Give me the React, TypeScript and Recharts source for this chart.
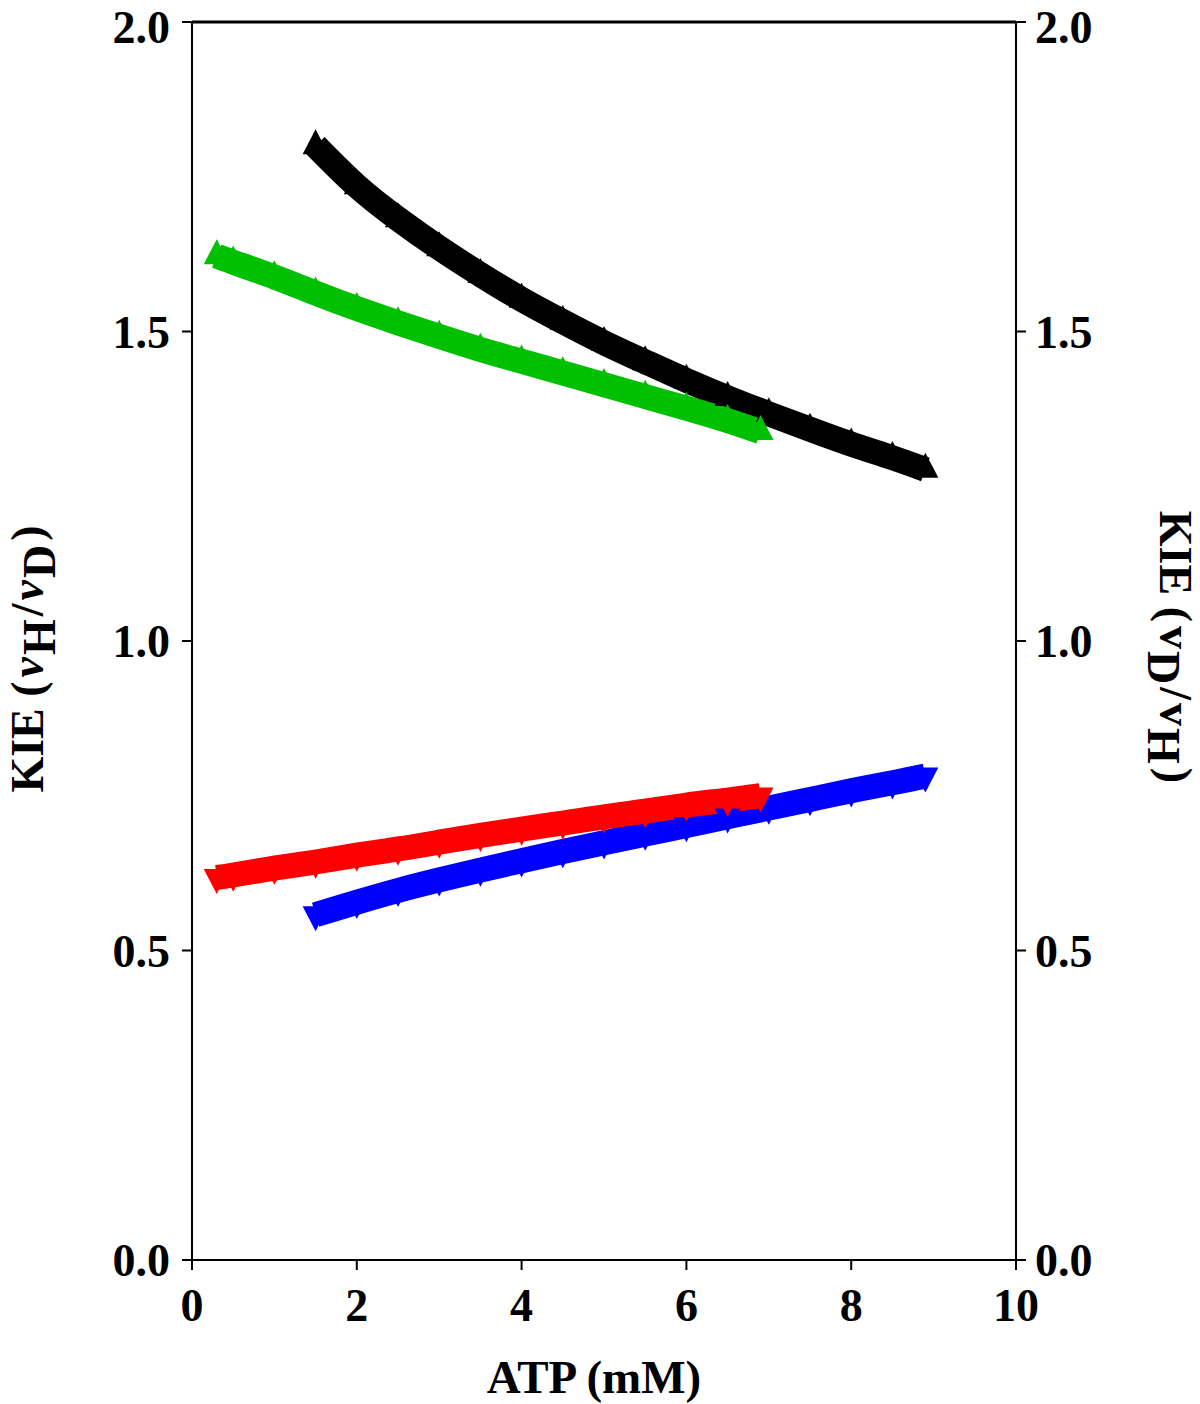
import { ComposedChart, Line, XAxis, YAxis, ReferenceLine, Label } from 'recharts';

// KIE vs ATP
const blackX = [1.5, 2, 2.5, 3, 3.5, 4, 4.5, 5, 5.5, 6, 6.5, 7, 7.5, 8, 8.5, 8.9];
const blackY = [1.8, 1.735, 1.682, 1.635, 1.592, 1.552, 1.516, 1.482, 1.451, 1.421, 1.393, 1.367, 1.342, 1.318, 1.296, 1.277];

const greenX = [0.3, 0.5, 1, 1.5, 2, 2.5, 3, 3.5, 4, 4.5, 5, 5.5, 6, 6.5, 6.9];
const greenY = [1.622, 1.612, 1.588, 1.562, 1.537, 1.514, 1.492, 1.471, 1.452, 1.433, 1.414, 1.395, 1.376, 1.356, 1.338];

const redX = [0.3, 0.5, 1, 1.5, 2, 2.5, 3, 3.5, 4, 4.5, 5, 5.5, 6, 6.5, 6.9];
const redY = [0.618, 0.622, 0.633, 0.643, 0.654, 0.664, 0.675, 0.686, 0.696, 0.706, 0.716, 0.725, 0.735, 0.743, 0.75];

const blueX = [1.5, 2, 2.5, 3, 3.5, 4, 4.5, 5, 5.5, 6, 6.5, 7, 7.5, 8, 8.5, 8.9];
const blueY = [0.558, 0.578, 0.597, 0.614, 0.63, 0.645, 0.66, 0.674, 0.688, 0.702, 0.716, 0.73, 0.744, 0.758, 0.771, 0.782];

const xTicks = [0, 2, 4, 6, 8, 10];
const yTicks = [0, 0.5, 1, 1.5, 2];

const toPoints = (xs: number[], ys: number[]) => xs.map((x, i) => ({ x, y: ys[i] }));

const blackData = toPoints(blackX, blackY);
const greenData = toPoints(greenX, greenY);
const redData = toPoints(redX, redY);
const blueData = toPoints(blueX, blueY);

const FONT = '"Liberation Serif", "Times New Roman", serif';
const tickStyle = { fontFamily: FONT, fontWeight: 'bold', fontSize: 46, fill: '#000' };

const triangle = (color: string, up: boolean) => (props: any) => {
  const { cx, cy, index } = props;
  if (cx == null || cy == null) return <g key={`t-${index}`} />;
  const w = 13;
  const h = 25;
  const d = up
    ? `M${cx},${cy - (2 * h) / 3} L${cx + w},${cy + h / 3} L${cx - w},${cy + h / 3} Z`
    : `M${cx},${cy + (2 * h) / 3} L${cx + w},${cy - h / 3} L${cx - w},${cy - h / 3} Z`;
  return <path key={`t-${index}`} d={d} fill={color} stroke="none" />;
};

const LeftTitle = (props: any) => {
  const vb = props.viewBox || { x: 0, y: 22, width: 192, height: 1238 };
  const cx = vb.x + 43;
  const cy = vb.y + vb.height / 2 + 18;
  return (
    <text
      transform={`translate(${cx},${cy}) rotate(-90)`}
      textAnchor="middle"
      fontFamily={FONT}
      fontWeight="bold"
      fontSize={46}
      fill="#000"
    >
      KIE (<tspan dx={4} fontStyle="italic">v</tspan>
      <tspan dx={2} dy={12}>H</tspan>
      <tspan dx={3} dy={-12}>/</tspan>
      <tspan dx={3} fontStyle="italic">v</tspan>
      <tspan dx={2} dy={12}>D</tspan>
      <tspan dx={4} dy={-12}>)</tspan>
    </text>
  );
};

const RightTitle = (props: any) => {
  const vb = props.viewBox || { x: 1016, y: 22, width: 184, height: 1238 };
  const cx = vb.x + 144;
  const cy = vb.y + vb.height / 2 + 6;
  return (
    <text
      transform={`translate(${cx},${cy}) rotate(90)`}
      textAnchor="middle"
      fontFamily={FONT}
      fontWeight="bold"
      fontSize={46}
      fill="#000"
    >
      KIE (<tspan dx={4}>v</tspan>
      <tspan dx={2} dy={12}>D</tspan>
      <tspan dx={3} dy={-12}>/</tspan>
      <tspan dx={3}>v</tspan>
      <tspan dx={2} dy={12}>H</tspan>
      <tspan dx={4} dy={-12}>)</tspan>
    </text>
  );
};

const BottomTitle = (props: any) => {
  const vb = props.viewBox || { x: 192, y: 1260, width: 824, height: 144 };
  return (
    <text
      x={vb.x + vb.width / 2 - 10}
      y={1393}
      textAnchor="middle"
      fontFamily={FONT}
      fontWeight="bold"
      fontSize={47}
      fill="#000"
    >
      ATP (mM)
    </text>
  );
};

const series = [
  { data: blackData, color: '#000000', up: true },
  { data: blueData, color: '#0000ff', up: false },
  { data: greenData, color: '#00c000', up: true },
  { data: redData, color: '#ff0000', up: false },
];

export default function App() {
  return (
    <div style={{ position: 'absolute', left: 0, top: 0, background: '#fff' }}>
      <ComposedChart width={1200} height={1404} margin={{ top: 22, right: 0, bottom: 0, left: 0 }}>
        <XAxis
          type="number"
          dataKey="x"
          domain={[0, 10]}
          ticks={xTicks}
          allowDataOverflow
          height={144}
          tick={tickStyle}
          tickLine={{ stroke: '#000', strokeWidth: 2 }}
          axisLine={{ stroke: '#000', strokeWidth: 2 }}
          tickSize={10}
          tickMargin={18}
        >
          <Label content={BottomTitle} />
        </XAxis>
        <YAxis
          yAxisId="left"
          type="number"
          domain={[0, 2]}
          ticks={yTicks}
          allowDataOverflow
          width={192}
          tick={tickStyle}
          tickFormatter={(v: number) => v.toFixed(1)}
          tickLine={{ stroke: '#000', strokeWidth: 2 }}
          axisLine={{ stroke: '#000', strokeWidth: 2 }}
          tickSize={10}
          tickMargin={12}
        >
          <Label content={LeftTitle} />
        </YAxis>
        <YAxis
          yAxisId="right"
          orientation="right"
          type="number"
          domain={[0, 2]}
          ticks={yTicks}
          allowDataOverflow
          width={184}
          tick={tickStyle}
          tickFormatter={(v: number) => v.toFixed(1)}
          tickLine={{ stroke: '#000', strokeWidth: 2 }}
          axisLine={{ stroke: '#000', strokeWidth: 2 }}
          tickSize={10}
          tickMargin={9}
        >
          <Label content={RightTitle} />
        </YAxis>
        <ReferenceLine yAxisId="left" y={2} stroke="#000" strokeWidth={3} />
        {series.map((s, i) => (
          <Line
            key={i}
            yAxisId="left"
            data={s.data}
            dataKey="y"
            type="natural"
            stroke={s.color}
            strokeWidth={25}
            dot={triangle(s.color, s.up)}
            activeDot={false}
            isAnimationActive={false}
          />
        ))}
      </ComposedChart>
    </div>
  );
}
